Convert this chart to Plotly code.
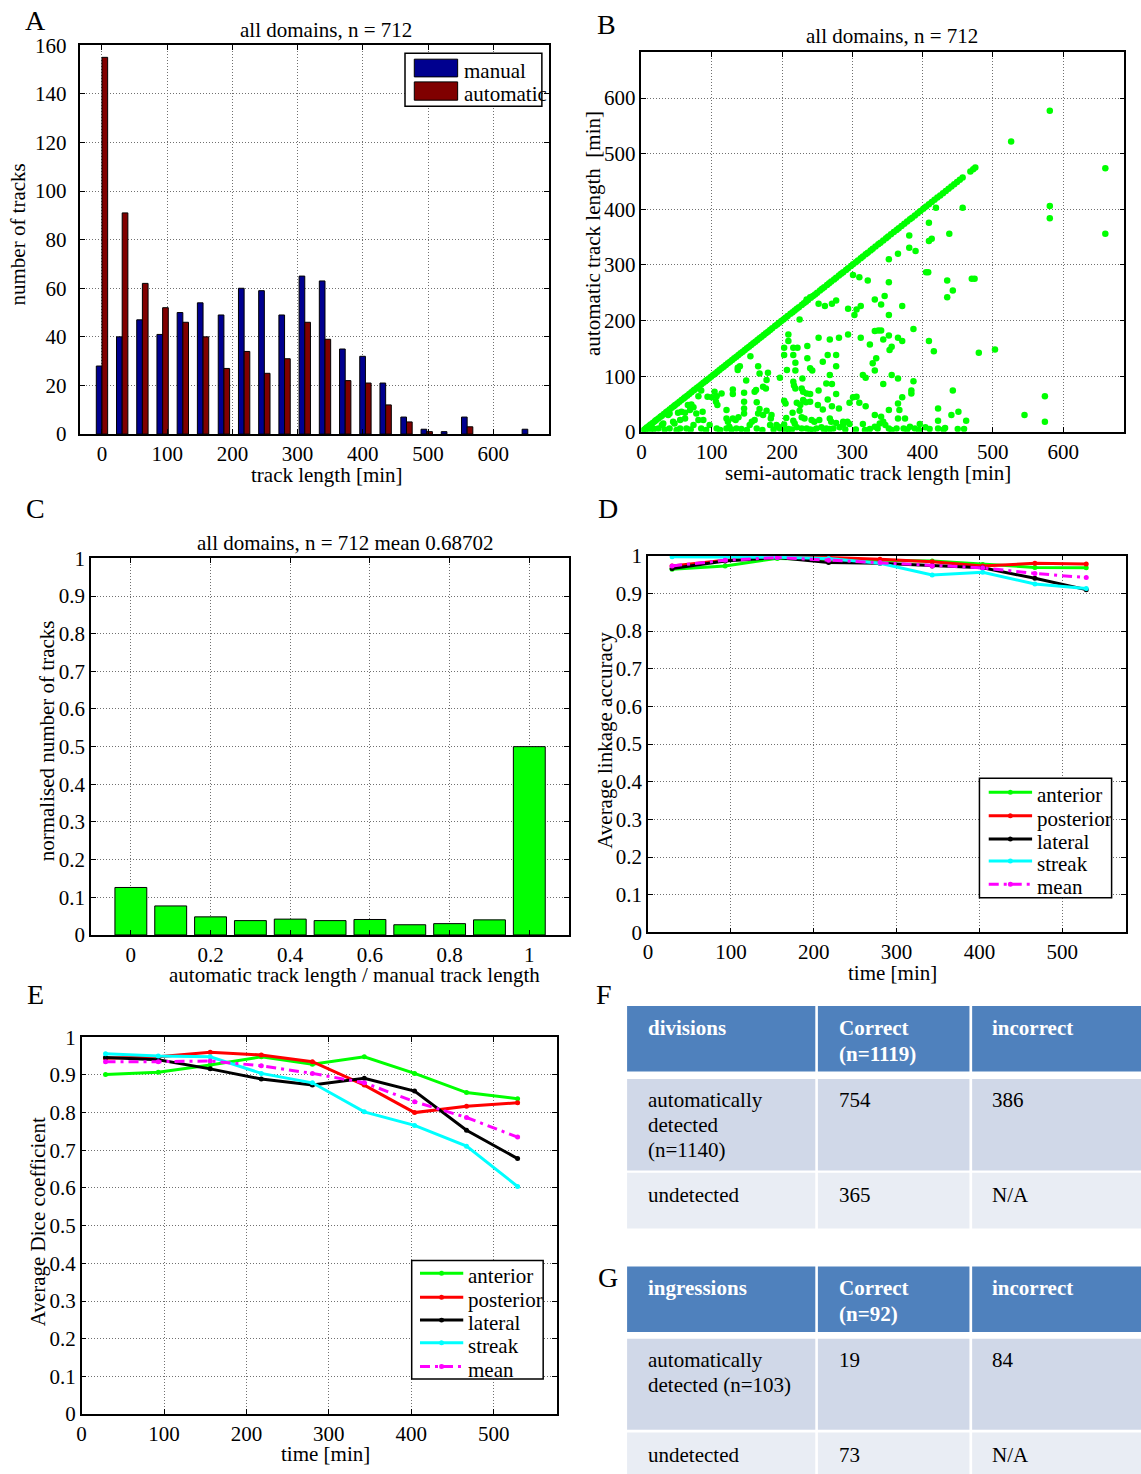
import plotly.graph_objects as go

W, H = 1141, 1474
FONT = "Liberation Serif"
# page placement of the figure when photographed: rendered = scale * figure_px + offset
SCALE_X, OFFSET_X = 0.9966, 4.6
SCALE_Y, OFFSET_Y = 0.984, 11.8

# ---------------- Panel A: track length histogram ----------------
bin_centres = [0, 31, 62, 93, 124, 155, 187, 218, 249, 280, 311, 342,
               373, 404, 435, 467, 498, 529, 560, 591, 622, 653]
manual_counts = [28, 40, 47, 41, 50, 54, 49, 60, 59, 49, 65, 63,
                 35, 32, 21, 7, 2, 1, 7, 0, 0, 2]
automatic_counts = [155, 91, 62, 52, 46, 40, 27, 34, 25, 31, 46, 39,
                    22, 21, 12, 5, 1, 0, 3, 0, 0, 0]

# ---------------- Panel B: semi-automatic vs automatic track length ----------------
# tracks whose automatic length equals the semi-automatic length
full_tracks = [1, 3, 6, 8, 11, 13, 16, 19, 21, 24, 27, 29, 32, 35, 37, 40, 43, 46,
               48, 51, 54, 57, 60, 62, 65, 68, 71, 74, 76, 79, 82, 85, 88, 91, 93,
               96, 99, 102, 105, 108, 111, 114, 117, 120, 123, 126, 129, 132, 135,
               138, 141, 144, 147, 150, 153, 156, 159, 162, 165, 168, 171, 174, 177,
               180, 183, 186, 190, 193, 196, 199, 202, 205, 208, 212, 215, 218, 221,
               224, 228, 231, 234, 237, 241, 244, 247, 250, 254, 257, 260, 264, 267,
               270, 274, 277, 281, 284, 287, 291, 294, 298, 301, 305, 308, 312, 315,
               319, 322, 326, 329, 333, 337, 340, 344, 348, 351, 355, 359, 363, 366,
               370, 374, 378, 382, 385, 389, 393, 397, 401, 405, 409, 413, 417, 421,
               425, 429, 433, 437, 441, 445, 449, 453, 457, 468, 472, 475]
# tracks that were only partly recovered: (semi-automatic length, automatic length)
partial_tracks = [
    (581, 577), (526, 522), (660, 474), (581, 406), (581, 384), (660, 356), (503, 148),
    (480, 142), (574, 64), (545, 30), (574, 18), (462, 20), (459, 5), (451, 36), (441, 30),
    (443, 74), (432, 7), (422, 20), (422, 6), (422, 42), (474, 275), (470, 275), (435, 272),
    (443, 254), (435, 242), (457, 403), (419, 403), (438, 356), (409, 376), (413, 347),
    (409, 343), (390, 325), (381, 331), (381, 353), (405, 287), (408, 287), (409, 163),
    (416, 145), (387, 185), (371, 226), (365, 320), (352, 310), (352, 269), (346, 244),
    (341, 229), (332, 238), (322, 272), (310, 278), (301, 282), (294, 221), (306, 220),
    (312, 226), (303, 210), (352, 210), (332, 181), (337, 182), (341, 182), (344, 166),
    (352, 173), (353, 147), (356, 153), (365, 169), (371, 163), (325, 157), (312, 169),
    (334, 132), (329, 123), (332, 110), (344, 86), (356, 102), (365, 96), (387, 91),
    (384, 74), (384, 69), (371, 62), (365, 51), (367, 39), (352, 39), (332, 30), (341, 27),
    (344, 18), (315, 14), (301, 62), (306, 63), (296, 52), (310, 52), (319, 46), (315, 102),
    (319, 97), (294, 175), (293, 18), (296, 14), (287, 13), (365, 24), (375, 24), (396, 14),
    (332, 9), (336, 6), (339, 15), (347, 12), (352, 6), (363, 6), (373, 6), (382, 9), (389, 6),
    (252, 169), (268, 166), (281, 169), (261, 226), (252, 230), (271, 230), (277, 236),
    (240, 242), (235, 238), (225, 202), (209, 175), (209, 163), (203, 151), (216, 151),
    (222, 151), (236, 154), (236, 132), (240, 114), (243, 110), (258, 126), (265, 138),
    (277, 138), (277, 118), (203, 138), (216, 138), (219, 124), (207, 111), (219, 110),
    (229, 96), (216, 90), (217, 83), (219, 78), (228, 78), (230, 72), (235, 69), (240, 68),
    (197, 97), (252, 74), (263, 87), (268, 102), (271, 86), (277, 68), (265, 58), (230, 57),
    (234, 53), (240, 54), (221, 52), (226, 48), (203, 56), (205, 51), (251, 48), (258, 40),
    (271, 46), (281, 42), (215, 34), (225, 38), (228, 26), (232, 24), (206, 25), (203, 13),
    (216, 20), (218, 15), (242, 21), (246, 18), (253, 21), (268, 24), (270, 18), (277, 16),
    (287, 18), (197, 6), (209, 5), (221, 8), (228, 6), (235, 6), (249, 6), (256, 8), (263, 6),
    (273, 6), (282, 8), (192, 12),
    (149, 92), (166, 118), (168, 105), (180, 106), (155, 136), (137, 115), (137, 111),
    (140, 118), (178, 93), (163, 75), (161, 72), (173, 81), (177, 78), (146, 70), (130, 76),
    (130, 68), (114, 69), (104, 72), (106, 54), (108, 48), (121, 39), (130, 24), (134, 21),
    (138, 26), (146, 54), (146, 42), (146, 33), (164, 53), (168, 41), (166, 33), (173, 30),
    (178, 38), (185, 30), (184, 24), (157, 18), (161, 21), (121, 24), (123, 18), (154, 12),
    (164, 6), (183, 12), (195, 9), (107, 6), (121, 6), (135, 6), (125, 9), (97, 12),
    (81, 64), (85, 74), (94, 63), (100, 62), (107, 64), (66, 48), (71, 49), (74, 44), (69, 39),
    (52, 34), (57, 36), (62, 34), (40, 33), (38, 30), (62, 24), (55, 21), (45, 18), (47, 15),
    (31, 15), (29, 12), (78, 33), (87, 36), (81, 21), (88, 21), (74, 12), (64, 6), (55, 6),
    (24, 6), (40, 6), (85, 6), (7, 6),
    (12, 3), (18, 5), (33, 4), (50, 3), (70, 4), (92, 3), (112, 3), (128, 4), (142, 5),
    (150, 3), (172, 3), (188, 4), (205, 3), (214, 4), (240, 4), (244, 3), (260, 3), (268, 5),
    (290, 4), (305, 4), (318, 3), (325, 5), (356, 3), (378, 4), (395, 3), (404, 8), (410, 5),
    (430, 4), (450, 5),
]

# ---------------- Panel C: length ratio histogram ----------------
ratio_bins = [0.0, 0.1, 0.2, 0.3, 0.4, 0.5, 0.6, 0.7, 0.8, 0.9, 1.0]
ratio_fraction = [0.126, 0.077, 0.048, 0.038, 0.042, 0.038, 0.041, 0.027, 0.030, 0.040, 0.500]

# ---------------- Panels D and E: accuracy over time ----------------
time_min = [29, 93, 156, 218, 280, 343, 404, 467, 529]
domains = ["anterior", "posterior", "lateral", "streak", "mean"]
linkage_accuracy = {
    "anterior":  [0.964, 0.973, 0.993, 0.990, 0.988, 0.986, 0.977, 0.969, 0.968],
    "posterior": [0.973, 0.988, 0.997, 0.995, 0.991, 0.984, 0.973, 0.980, 0.978],
    "lateral":   [0.966, 0.986, 0.995, 0.982, 0.980, 0.973, 0.968, 0.940, 0.910],
    "streak":    [0.997, 0.997, 0.996, 0.993, 0.980, 0.949, 0.956, 0.925, 0.913],
    "mean":      [0.973, 0.988, 0.995, 0.988, 0.982, 0.973, 0.968, 0.953, 0.942],
}
dice_coefficient = {
    "anterior":  [0.901, 0.907, 0.926, 0.948, 0.928, 0.948, 0.904, 0.853, 0.837],
    "posterior": [0.944, 0.948, 0.960, 0.953, 0.935, 0.873, 0.800, 0.817, 0.826],
    "lateral":   [0.946, 0.940, 0.916, 0.889, 0.873, 0.891, 0.857, 0.753, 0.678],
    "streak":    [0.956, 0.950, 0.948, 0.904, 0.879, 0.802, 0.766, 0.711, 0.604],
    "mean":      [0.935, 0.935, 0.937, 0.924, 0.904, 0.879, 0.829, 0.787, 0.735],
}
domain_colour = {"anterior": "#00FF00", "posterior": "#FF0000", "lateral": "#000000",
                 "streak": "#00FFFF", "mean": "#FF00FF"}
MEAN_DASH = "10px,5px,3px,5px"

# ---------------- Tables F and G ----------------
division_table = [
    [["divisions"], ["Correct", "(n=1119)"], ["incorrect"]],
    [["automatically", "detected", "(n=1140)"], ["754"], ["386"]],
    [["undetected"], ["365"], ["N/A"]],
]
ingression_table = [
    [["ingressions"], ["Correct", "(n=92)"], ["incorrect"]],
    [["automatically", "detected (n=103)"], ["19"], ["84"]],
    [["undetected"], ["73"], ["N/A"]],
]


def px(x):
    """Page pixel column -> paper x fraction."""
    return (x - OFFSET_X) / (SCALE_X * W)


def py(y):
    """Page pixel row -> paper y fraction."""
    return 1 - (y - OFFSET_Y) / (SCALE_Y * H)


def edge_widths(counts):
    # outline only the bins that hold tracks
    return [1 if c > 0 else 0 for c in counts]


fig = go.Figure()

# A
fig.add_trace(go.Bar(x=bin_centres, y=manual_counts, width=8.7, offset=-8.7,
                     marker=dict(color="#00008F",
                                 line=dict(color="black", width=edge_widths(manual_counts))),
                     xaxis="x", yaxis="y", showlegend=False))
fig.add_trace(go.Bar(x=bin_centres, y=automatic_counts, width=8.7, offset=0,
                     marker=dict(color="#800000",
                                 line=dict(color="black", width=edge_widths(automatic_counts))),
                     xaxis="x", yaxis="y", showlegend=False))

# B
semi_x = full_tracks + [p[0] for p in partial_tracks]
auto_y = full_tracks + [p[1] for p in partial_tracks]
fig.add_trace(go.Scatter(x=semi_x, y=auto_y, mode="markers",
                         marker=dict(color="#00FF00", size=6.5, line=dict(width=0)),
                         xaxis="x2", yaxis="y2", showlegend=False))

# C
fig.add_trace(go.Bar(x=ratio_bins, y=ratio_fraction, width=0.08, offset=-0.04,
                     marker=dict(color="#00FF00", line=dict(color="black", width=1)),
                     xaxis="x3", yaxis="y3", showlegend=False))

# D and E
for values, xa, ya in [(linkage_accuracy, "x4", "y4"), (dice_coefficient, "x5", "y5")]:
    for name in domains:
        dash = MEAN_DASH if name == "mean" else "solid"
        fig.add_trace(go.Scatter(x=time_min, y=values[name], name=name, mode="lines+markers",
                                 line=dict(color=domain_colour[name], width=3, dash=dash),
                                 marker=dict(color=domain_colour[name], size=5),
                                 xaxis=xa, yaxis=ya, showlegend=False))

tick_font = dict(family=FONT, size=21, color="black")
axis_common = dict(showline=True, linecolor="black", linewidth=1.5, mirror="ticks",
                   ticks="inside", ticklen=5, tickcolor="black", tickwidth=1,
                   showgrid=True, gridcolor="#707070", griddash="1px,2px", gridwidth=1,
                   zeroline=False, tickfont=tick_font, fixedrange=True)

frac_vals = [0, 0.1, 0.2, 0.3, 0.4, 0.5, 0.6, 0.7, 0.8, 0.9, 1]
frac_text = ["0", "0.1", "0.2", "0.3", "0.4", "0.5", "0.6", "0.7", "0.8", "0.9", "1"]

fig.update_layout(
    width=W, height=H, margin=dict(l=0, r=0, t=0, b=0),
    paper_bgcolor="white", plot_bgcolor="white", barmode="overlay", showlegend=False,
    font=dict(family=FONT, size=21, color="black"),
    xaxis=dict(axis_common, domain=[px(80), px(549)], range=[-33.2, 685.3],
               tickvals=[0, 100, 200, 300, 400, 500, 600], anchor="y"),
    yaxis=dict(axis_common, domain=[py(434), py(45)], range=[0, 160],
               tickvals=list(range(0, 161, 20)), anchor="x", ticklabelstandoff=8),
    xaxis2=dict(axis_common, domain=[px(641.7), px(1125)], range=[0, 687],
                tickvals=[0, 100, 200, 300, 400, 500, 600], anchor="y2"),
    yaxis2=dict(axis_common, domain=[py(431.7), py(51.7)], range=[0, 683],
                tickvals=[0, 100, 200, 300, 400, 500, 600], anchor="x2"),
    xaxis3=dict(axis_common, domain=[px(90.7), px(569.3)], range=[-0.1, 1.1],
                tickvals=[0, 0.2, 0.4, 0.6, 0.8, 1], ticktext=["0", "0.2", "0.4", "0.6", "0.8", "1"],
                anchor="y3"),
    yaxis3=dict(axis_common, domain=[py(935), py(558.3)], range=[0, 1],
                tickvals=frac_vals, ticktext=frac_text, anchor="x3"),
    xaxis4=dict(axis_common, domain=[px(648.3), px(1126.7)], range=[0, 577],
                tickvals=[0, 100, 200, 300, 400, 500], anchor="y4"),
    yaxis4=dict(axis_common, domain=[py(932.5), py(555.7)], range=[0, 1],
                tickvals=frac_vals, ticktext=frac_text, anchor="x4"),
    xaxis5=dict(axis_common, domain=[px(81.3), px(557.3)], range=[0, 577],
                tickvals=[0, 100, 200, 300, 400, 500], anchor="y5"),
    yaxis5=dict(axis_common, domain=[py(1414.3), py(1037.3)], range=[0, 1],
                tickvals=frac_vals, ticktext=frac_text, anchor="x5"),
)


def text(x, y, s, size=21, xanchor="center", angle=0, color="black", weight="normal"):
    fig.add_annotation(x=px(x), y=py(y), xref="paper", yref="paper", text=s, showarrow=False,
                       xanchor=xanchor, yanchor="middle", textangle=angle,
                       font=dict(family=FONT, size=size, color=color, weight=weight))


def rect(x0, y0, x1, y1, fill, line_color=None, line_width=0, layer="above"):
    fig.add_shape(type="rect", xref="paper", yref="paper", x0=px(x0), x1=px(x1),
                  y0=py(y1), y1=py(y0), fillcolor=fill, layer=layer,
                  line=dict(color=line_color or fill, width=line_width))


# panel letters
for letter, lx, ly in [("A", 35, 20), ("B", 607, 24), ("C", 35, 508), ("D", 608, 508),
                       ("E", 35, 995), ("F", 604, 995), ("G", 608, 1278)]:
    text(lx, ly, letter, size=28)

# titles and axis labels
text(326, 30, "all domains, n = 712")
text(327, 475, "track length [min]")
text(18, 234, "number of tracks", angle=-90)
text(892, 36, "all domains, n = 712")
text(868, 473, "semi-automatic track length [min]")
text(593, 233, "automatic track length  [min]", angle=-90)
text(345, 543, "all domains, n = 712 mean 0.68702")
text(354, 975, "automatic track length / manual track length")
text(47, 741, "normalised number of tracks", angle=-90)
text(893, 973, "time [min]")
text(605, 740, "Average linkage accuracy", angle=-90)
text(325, 1454, "time [min]")
text(37, 1222, "Average Dice coefficient", angle=-90)

# legend of panel A
rect(405, 53, 542, 106, "white", "black", 1.5)
rect(414.3, 59, 457.7, 76.7, "#00008F", "black", 1)
rect(414.3, 81.7, 457.7, 100, "#800000", "black", 1)
text(462, 71, "manual", xanchor="left")
text(462, 94, "automatic", xanchor="left")


# legends of panels D and E
def line_legend(box, line_x0, line_x1, label_x, ys):
    rect(*box, "white", "black", 1.5)
    mid = (line_x0 + line_x1) / 2
    for name, y in zip(domains, ys):
        dash = MEAN_DASH if name == "mean" else "solid"
        fig.add_shape(type="line", xref="paper", yref="paper", x0=px(line_x0), x1=px(line_x1),
                      y0=py(y), y1=py(y), line=dict(color=domain_colour[name], width=3, dash=dash))
        fig.add_shape(type="circle", xref="paper", yref="paper", x0=px(mid - 2.5), x1=px(mid + 2.5),
                      y0=py(y + 2.5), y1=py(y - 2.5), fillcolor=domain_colour[name],
                      line=dict(width=0))
        text(label_x, y + 3, name, xanchor="left")


line_legend((980, 778.3, 1112.3, 897.7), 989.3, 1032.7, 1036, [792.3, 815.7, 839, 861, 884.3])
line_legend((411.7, 1260.7, 543.3, 1379.3), 420, 463.3, 466.5, [1273.3, 1297.3, 1320.3, 1343, 1366.7])

# tables
header_blue = "#4F81BD"
row_dark = "#D0D8E8"
row_light = "#E9EDF4"
col_edges = [(627.3, 815.7), (818.3, 970.0), (972.7, 1150.0)]
text_x = [646, 837, 991]


def draw_table(table, row_edges, line_ys):
    fills = [header_blue, row_dark, row_light]
    for r, (y0, y1) in enumerate(row_edges):
        for c, (x0, x1) in enumerate(col_edges):
            rect(x0, y0, x1, y1, fills[r], layer="below")
            for k, line in enumerate(table[r][c]):
                if r == 0:
                    text(text_x[c], line_ys[r][k], line, xanchor="left", color="white", weight="bold")
                else:
                    text(text_x[c], line_ys[r][k], line, xanchor="left")


draw_table(division_table, [(1006, 1071.7), (1079, 1170.7), (1173, 1228.7)],
           [[1028, 1054], [1100, 1125, 1150], [1195]])
draw_table(ingression_table, [(1266.7, 1332.3), (1339, 1430), (1432.7, 1490)],
           [[1288, 1314], [1360, 1385], [1455]])

fig.write_html("out.html")
